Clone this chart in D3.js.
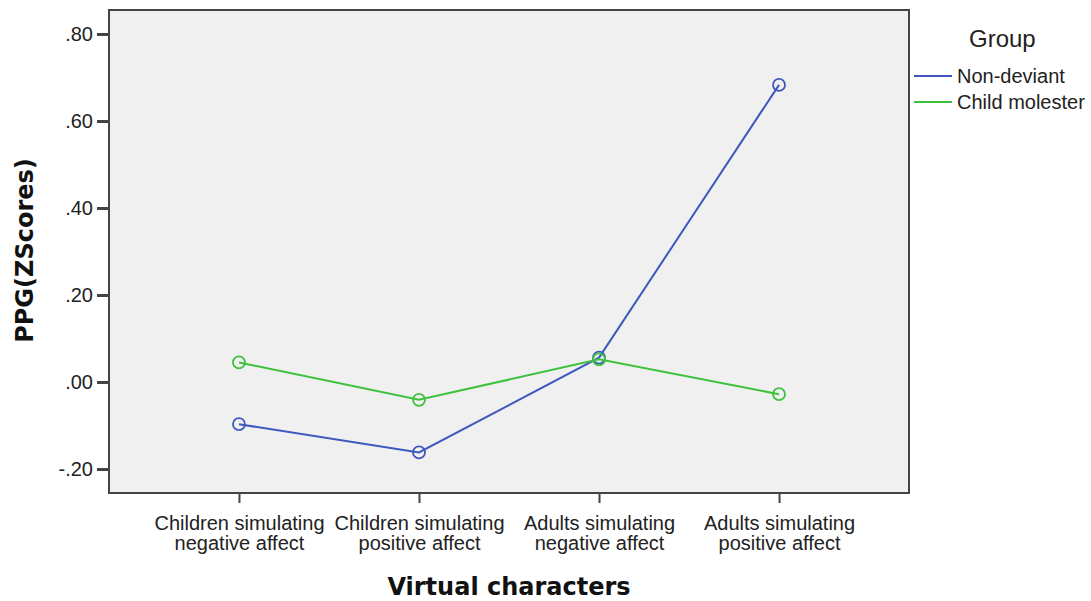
<!DOCTYPE html>
<html>
<head>
<meta charset="utf-8">
<script src="https://cdn.jsdelivr.net/npm/d3@7"></script>
<style>
    body { margin: 0; background: #fff; }
    .axis text { font-family: "Liberation Sans", Arial, sans-serif; font-size: 20px; fill: #222; }
    .axis path, .axis line { stroke: #444; }
</style>
</head>
<body>
<div id="chart"></div>
<script>
// chart data
var categories = [
    ["Children simulating", "negative affect"],
    ["Children simulating", "positive affect"],
    ["Adults simulating", "negative affect"],
    ["Adults simulating", "positive affect"]
];
var groups = ["Non-deviant", "Child molester"];
var nonDeviant = [-0.097, -0.162, 0.056, 0.683];
var childMolester = [0.045, -0.041, 0.052, -0.028];
var yTicks = [-0.2, 0, 0.2, 0.4, 0.6, 0.8];
var yTickLabels = ["-.20", ".00", ".20", ".40", ".60", ".80"];

var colors = ["#3e58c0", "#3ec23e"];

var margin = {top: 10, right: 182, bottom: 108, left: 109};
var width = 1091 - margin.left - margin.right,
    height = 601 - margin.top - margin.bottom;

var svg = d3.select("#chart").append("svg")
    .attr("width", 1091)
    .attr("height", 601)
    .append("g")
    .attr("transform", "translate(" + margin.left + "," + margin.top + ")");

// plot background
svg.append("rect")
    .attr("width", width)
    .attr("height", height)
    .attr("fill", "#f0f0f0")
    .attr("stroke", "#444")
    .attr("stroke-width", 2);

var xScale = d3.scalePoint()
    .domain(d3.range(categories.length))
    .range([0, width])
    .padding(0.722);

var yScale = d3.scaleLinear()
    .domain([-0.2 - 24 / 435, 0.8 + 24 / 435])
    .range([height, 0]);

// x axis
var xAxis = svg.append("g")
    .attr("class", "axis")
    .attr("transform", "translate(0," + height + ")")
    .call(d3.axisBottom(xScale).tickSize(10).tickSizeOuter(0).tickFormat(""));
xAxis.select(".domain").remove();
xAxis.selectAll(".tick line").attr("stroke-width", 2);

xAxis.selectAll(".tick").each(function(d) {
    var t = d3.select(this).append("text")
        .attr("text-anchor", "middle")
        .attr("y", 37);
    t.append("tspan").attr("x", 0).attr("dy", 0).text(categories[d][0]);
    t.append("tspan").attr("x", 0).attr("dy", 20).text(categories[d][1]);
});

// y axis
var yAxis = svg.append("g")
    .attr("class", "axis")
    .call(d3.axisLeft(yScale)
        .tickValues(yTicks)
        .tickSize(12)
        .tickPadding(4)
        .tickFormat(function(d, i) { return yTickLabels[i]; }));
yAxis.select(".domain").remove();
yAxis.selectAll(".tick line").attr("stroke-width", 3);

// axis titles
svg.append("text")
    .attr("transform", "rotate(-90)")
    .attr("x", -height / 2 + 1)
    .attr("y", -76)
    .style("text-anchor", "middle")
    .style("font-family", "'DejaVu Sans', sans-serif")
    .style("font-weight", "bold")
    .style("font-size", "24px")
    .attr("fill", "#111")
    .text("PPG(ZScores)");

svg.append("text")
    .attr("x", width / 2)
    .attr("y", height + 102)
    .style("text-anchor", "middle")
    .style("font-family", "'DejaVu Sans', sans-serif")
    .style("font-weight", "bold")
    .style("font-size", "24px")
    .attr("fill", "#111")
    .text("Virtual characters");

// lines and markers
var series = [nonDeviant, childMolester];

var line = d3.line()
    .x(function(d, i) { return xScale(i); })
    .y(function(d) { return yScale(d); });

series.forEach(function(values, s) {
    svg.append("path")
        .datum(values)
        .attr("fill", "none")
        .attr("stroke", colors[s])
        .attr("stroke-width", 2)
        .attr("d", line);

    svg.selectAll("circle.s" + s)
        .data(values)
        .enter()
        .append("circle")
        .attr("class", "s" + s)
        .attr("cx", function(d, i) { return xScale(i); })
        .attr("cy", function(d) { return yScale(d); })
        .attr("r", 6)
        .attr("fill", "none")
        .attr("stroke", colors[s])
        .attr("stroke-width", 1.8);
});

// legend
var legend = svg.append("g")
    .attr("transform", "translate(" + (width + 5) + ",0)");

legend.append("text")
    .attr("x", 55)
    .attr("y", 37)
    .style("font-family", "'Liberation Sans', Arial, sans-serif")
    .style("font-size", "24px")
    .attr("fill", "#222")
    .text("Group");

groups.forEach(function(g, i) {
    legend.append("line")
        .attr("x1", 0)
        .attr("x2", 38)
        .attr("y1", 66 + i * 26)
        .attr("y2", 66 + i * 26)
        .attr("stroke", colors[i])
        .attr("stroke-width", 2);
    legend.append("text")
        .attr("x", 43)
        .attr("y", 73 + i * 26)
        .style("font-family", "'Liberation Sans', Arial, sans-serif")
        .style("font-size", "20px")
        .attr("fill", "#222")
        .text(g);
});
</script>
</body>
</html>
